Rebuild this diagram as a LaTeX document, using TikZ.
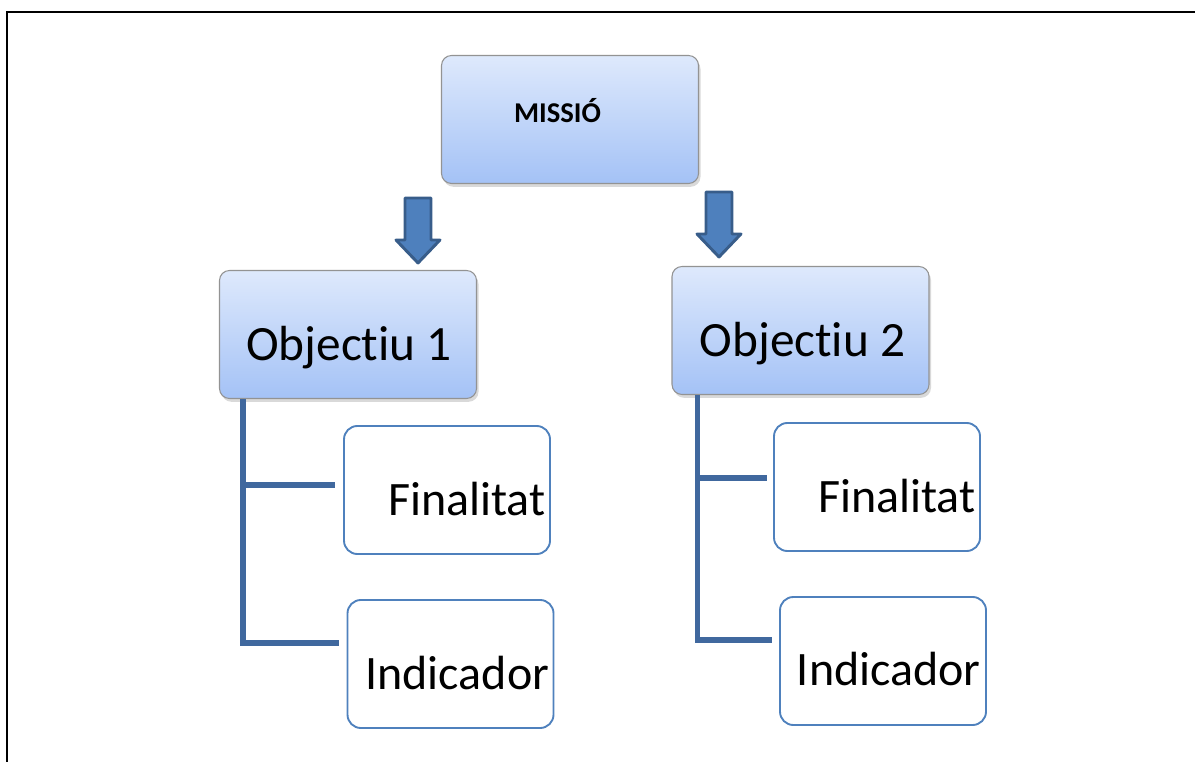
\documentclass[tikz,border=0pt]{standalone}
\usepackage{fontspec}
\setmainfont{Carlito}[Ligatures=NoCommon]
\usetikzlibrary{shadows,calc}
\definecolor{boxtop}{RGB}{222,233,252}
\definecolor{boxbot}{RGB}{164,194,246}
\definecolor{leafline}{RGB}{79,129,189}
\definecolor{branchline}{RGB}{64,104,158}
\definecolor{arrowfill}{RGB}{78,128,189}
\definecolor{arrowline}{RGB}{56,93,138}
\begin{document}
\begin{tikzpicture}[x=0.75pt,y=-0.75pt,
    topbox/.style ={draw=gray!85, line width=0.8pt, rounded corners=7.5pt, top color=boxtop, bottom color=boxbot,
      drop shadow={shadow xshift=1.5pt, shadow yshift=-2.5pt, opacity=0.3}, inner sep=0pt,
      minimum width=192.75pt, minimum height=96pt},
    leafbox/.style ={draw=leafline, line width=1.4pt, rounded corners=10pt, fill=white, inner sep=0pt,
      minimum width=154.5pt, minimum height=96pt},
    branch/.style ={draw=branchline, line width=3.8pt},
    blockarrow/.style ={fill=arrowfill, draw=arrowline, line width=2.2pt, line join=round},
    downblock/.pic ={\path[blockarrow] (-13,0) -- (13,0) -- (13,42) -- (22,42) -- (0,65) -- (-22,42) -- (-13,42) -- cycle;},
    objtext/.style ={inner sep=0pt, font=\fontsize{37pt}{40pt}\selectfont},
    leaftext/.style ={inner sep=0pt, font=\fontsize{36pt}{40pt}\selectfont}]
   \useasboundingbox (0,0) rectangle (1195,762);
   \draw[line width=1.5pt] (7,762) -- (7,12) -- (1195,12);
   % boxes
   \node[topbox] (missio) at (570,119.5) {};
   \node[topbox] (obj1) at (348,334.5) {};
   \node[topbox] (obj2) at (800.5,330.5) {};
   \node[leafbox] (fin1) at (447,490) {};
   \node[leafbox] (ind1) at (450.5,664) {};
   \node[leafbox] (fin2) at (877,487) {};
   \node[leafbox] (ind2) at (883,661) {};
   % texts
   \node[inner sep=0pt, anchor=base, font=\fontsize{21.5pt}{24pt}\selectfont\bfseries] (missiot) at ($(missio.center)+(-12.5,3.5)$) {MISSIÓ};
   \node[objtext, anchor=base] (obj1t) at ($(obj1.center)+(1,26)$) {Objectiu 1};
   \node[objtext, anchor=base] (obj2t) at ($(obj2.center)+(2,26)$) {Objectiu 2};
   \node[leaftext, anchor=base east] (fin1t) at ($(fin1.east)+(-5,25)$) {Finalitat};
   \node[leaftext, anchor=base east] (ind1t) at ($(ind1.east)+(-5,25)$) {Indicador};
   \node[leaftext, anchor=base east] (fin2t) at ($(fin2.east)+(-5,25)$) {Finalitat};
   \node[leaftext, anchor=base east] (ind2t) at ($(ind2.east)+(-6,24)$) {Indicador};
   % arrows
   \pic (arrl) at (418,198) {downblock};
   \pic (arrr) at (719,192) {downblock};
   % branches
   \draw[branch] ($(obj1.south west)+(24,0)$) |- ($(ind1.west)+(-8,-21)$);
   \draw[branch] ($(obj1.south west)+(24,0)$) |- ($(fin1.west)+(-8,-5)$);
   \draw[branch] ($(obj2.south west)+(26,0)$) |- ($(ind2.west)+(-7,-21)$);
   \draw[branch] ($(obj2.south west)+(26,0)$) |- ($(fin2.west)+(-6,-9)$);
\end{tikzpicture}
\end{document}
